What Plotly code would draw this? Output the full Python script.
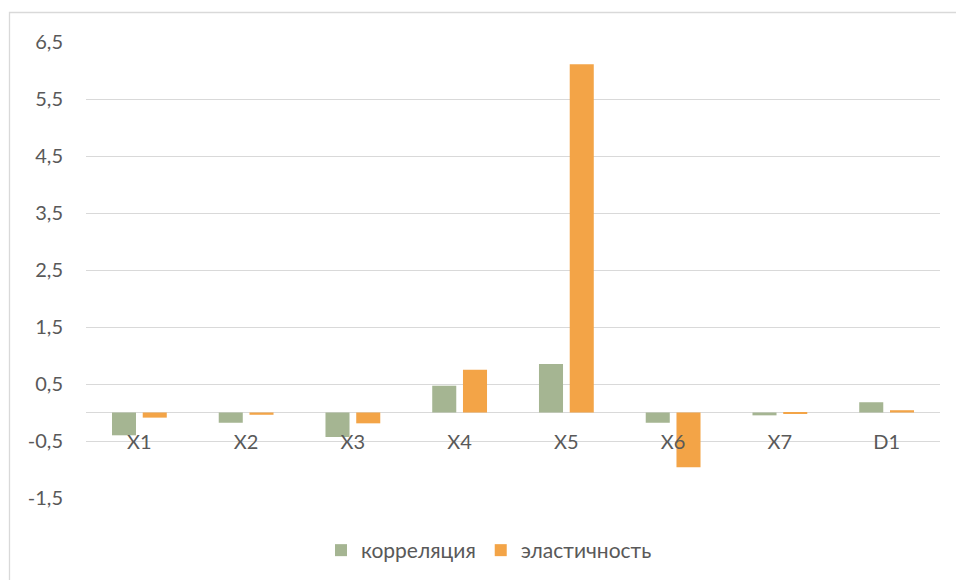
import plotly.graph_objects as go

categories = ["X1", "X2", "X3", "X4", "X5", "X6", "X7", "D1"]
correlation = [-0.40, -0.18, -0.43, 0.47, 0.85, -0.18, -0.05, 0.18]
elasticity = [-0.09, -0.04, -0.19, 0.75, 6.11, -0.96, -0.02, 0.04]
tick_vals = [-1.5, -0.5, 0.5, 1.5, 2.5, 3.5, 4.5, 5.5, 6.5]
tick_text = ["-1,5", "-0,5", "0,5", "1,5", "2,5", "3,5", "4,5", "5,5", "6,5"]

GREEN = "#A5B592"
ORANGE = "#F3A447"
GRID = "#D9D9D9"
TEXT = "#595959"
FONT = "Lato, Carlito, 'Open Sans', sans-serif"

fig = go.Figure()
fig.add_trace(go.Bar(name="корреляция", x=categories, y=correlation,
                     marker=dict(color=GREEN, line=dict(width=0))))
fig.add_trace(go.Bar(name="эластичность", x=categories, y=elasticity,
                     marker=dict(color=ORANGE, line=dict(width=0))))

ymin, ymax = -1.5, 6.5
fig.update_layout(
    width=956, height=580,
    margin=dict(l=86, r=16, t=42, b=82, autoexpand=False),
    paper_bgcolor="white", plot_bgcolor="white",
    barmode="group", bargap=0.424, bargroupgap=0.218,
    font=dict(family=FONT, size=20, color=TEXT),
    showlegend=True,
    legend=dict(orientation="h", x=0.5 - 24 / 854, xanchor="center",
                yref="container", y=1 - 530 / 580, yanchor="top",
                font=dict(size=21, color=TEXT), itemwidth=30, tracegroupgap=0,
                itemsizing="constant"),
    xaxis=dict(
        anchor="free", position=(0 - ymin) / (ymax - ymin),
        showline=False, showgrid=False, zeroline=False,
        ticks="", ticklabelstandoff=15, automargin=False,
        tickfont=dict(size=20, color=TEXT),
    ),
    yaxis=dict(
        range=[ymin, ymax], tickvals=tick_vals, ticktext=tick_text,
        showgrid=True, gridcolor=GRID, gridwidth=1.3,
        zeroline=True, zerolinecolor=GRID, zerolinewidth=1.3,
        showline=False, ticks="", ticklabelstandoff=22, automargin=False,
        tickfont=dict(size=20, color=TEXT),
    ),
    shapes=[
        dict(type="rect", xref="paper", yref="paper",
             x0=(9.5 - 86) / 854, x1=1.2, y0=-0.3, y1=(498 - 12.5) / 456,
             line=dict(color=GRID, width=1.3), fillcolor="rgba(0,0,0,0)",
             layer="below"),
    ],
)

fig.write_html("out.html")
